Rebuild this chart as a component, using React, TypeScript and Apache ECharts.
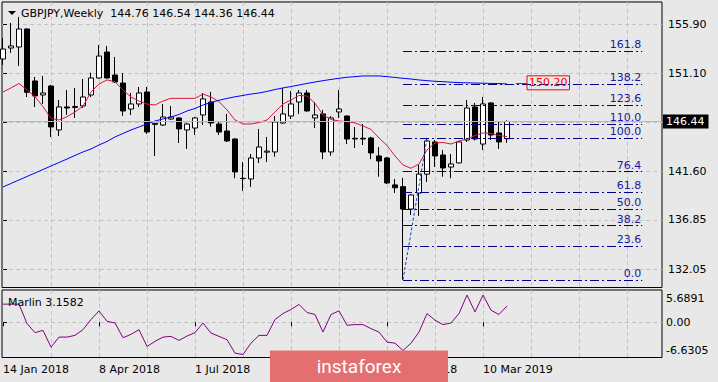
import React, { useEffect, useRef } from 'react';
import * as echarts from 'echarts';

const symbolName = 'GBPJPY,Weekly';

const opens = [152.52, 153.59, 153.69, 155.44, 150.38, 149.02, 149.89, 145.61, 147.85, 147.80, 147.95, 149.02, 150.67, 153.20, 150.96, 150.18, 147.65, 148.14, 149.31, 146.15, 146.09, 146.68, 146.78, 145.61, 145.80, 147.07, 148.33, 146.19, 145.51, 144.73, 140.90, 140.84, 142.88, 143.45, 143.47, 146.29, 146.97, 148.33, 149.21, 146.78, 147.17, 143.47, 147.36, 146.97, 144.73, 144.80, 144.83, 143.08, 142.88, 140.26, 140.09, 137.91, 139.47, 141.31, 144.44, 143.17, 142.00, 142.40, 144.63, 147.85, 144.24, 148.24, 145.32, 144.76];
const highs = [154.57, 156.03, 156.61, 155.50, 150.77, 150.87, 150.00, 148.53, 149.50, 149.70, 150.57, 151.19, 153.88, 153.79, 152.72, 151.16, 149.21, 149.79, 149.79, 146.30, 148.14, 147.94, 146.85, 146.29, 146.87, 149.21, 149.31, 146.48, 147.17, 144.80, 142.49, 143.27, 145.71, 144.93, 146.97, 149.70, 149.40, 149.50, 149.50, 148.33, 147.56, 146.95, 149.50, 147.00, 145.90, 146.19, 144.95, 143.95, 142.98, 140.84, 140.94, 139.35, 142.20, 144.80, 144.63, 143.66, 143.27, 144.50, 148.53, 148.24, 148.82, 148.30, 146.48, 146.54];
const lows = [151.94, 153.11, 151.84, 148.82, 147.85, 148.14, 144.93, 145.02, 147.07, 146.78, 147.75, 148.82, 150.60, 150.62, 150.18, 146.98, 147.07, 147.85, 145.22, 143.08, 146.00, 146.58, 144.34, 143.76, 145.12, 146.09, 145.93, 145.12, 144.44, 140.91, 139.68, 140.07, 142.40, 142.49, 143.00, 146.20, 146.68, 147.17, 147.40, 145.80, 142.76, 143.10, 146.78, 144.24, 143.86, 144.15, 142.76, 141.06, 140.35, 139.48, 131.02, 137.33, 137.24, 140.54, 142.00, 141.06, 140.91, 142.35, 144.44, 144.60, 143.66, 144.63, 143.76, 144.36];
const closes = [153.49, 153.79, 155.44, 149.28, 148.92, 149.21, 145.90, 147.85, 147.75, 147.90, 148.82, 150.67, 152.81, 150.67, 150.28, 147.46, 148.14, 149.21, 145.41, 146.25, 146.87, 146.87, 145.71, 146.19, 146.78, 148.63, 146.29, 145.41, 144.54, 141.52, 140.88, 142.88, 143.95, 143.55, 146.39, 147.17, 148.14, 149.21, 147.46, 147.07, 143.47, 146.78, 147.65, 144.73, 144.80, 144.73, 143.37, 142.59, 140.45, 139.98, 137.91, 139.28, 141.31, 144.54, 143.08, 141.91, 142.30, 144.44, 147.75, 144.73, 148.14, 145.12, 144.44, 146.44];

const maFast = [149.31, 149.70, 150.14, 149.50, 148.85, 147.88, 146.73, 146.58, 146.90, 147.36, 147.94, 149.31, 150.09, 150.48, 150.31, 149.50, 148.82, 148.43, 148.14, 148.04, 148.43, 148.69, 148.69, 148.69, 148.69, 149.11, 148.82, 148.38, 147.56, 146.58, 146.19, 146.19, 146.34, 146.58, 147.36, 148.14, 148.53, 148.97, 148.92, 148.21, 147.07, 146.63, 146.48, 146.42, 146.29, 146.00, 145.66, 144.83, 144.10, 143.08, 142.20, 141.88, 142.30, 143.66, 144.34, 144.39, 144.24, 144.54, 144.73, 145.07, 145.32, 145.27, 145.07, 144.96];
const maSlow = [140.06, 140.40, 140.74, 141.08, 141.42, 141.76, 142.10, 142.44, 142.78, 143.13, 143.47, 143.76, 144.15, 144.49, 144.93, 145.27, 145.61, 145.90, 146.19, 146.48, 146.68, 146.87, 147.12, 147.46, 147.70, 148.04, 148.29, 148.50, 148.68, 148.84, 148.97, 149.11, 149.21, 149.36, 149.55, 149.70, 149.84, 149.99, 150.14, 150.28, 150.41, 150.53, 150.64, 150.74, 150.80, 150.87, 150.87, 150.87, 150.80, 150.72, 150.64, 150.57, 150.48, 150.41, 150.35, 150.31, 150.26, 150.22, 150.20, 150.18, 150.16, 150.14, 150.13, 150.09];

const marlin = [3.50, 3.50, 3.50, -0.25, -2.00, -1.56, -4.80, -2.86, -2.86, -2.53, -1.42, 0.53, 2.20, 0.19, -0.14, -2.98, -2.33, -1.42, -4.67, -3.69, -2.86, -2.72, -3.50, -2.66, -2.00, -0.14, -2.08, -2.72, -3.36, -5.97, -6.22, -4.03, -2.53, -2.53, 0.53, 1.69, 2.47, 3.44, 1.89, 1.50, -1.89, 1.50, 2.20, -0.58, -0.45, -0.45, -1.23, -1.89, -3.83, -4.03, -5.45, -4.03, -1.89, 1.69, 0.39, -0.45, -0.14, 1.69, 5.25, 2.00, 5.25, 2.33, 1.50, 3.1582];

const dateTickIndex = [0, 12, 24, 36, 48, 60];
const dateTickLabels = ['14 Jan 2018', '8 Apr 2018', '1 Jul 2018', '23 Sep 2018', '16 Dec 2018', '10 Mar 2019'];
const gridWeeks = [6, 12, 18, 24, 30, 36, 42, 48, 54, 60, 66, 72, 78];
const priceTicks = [132.05, 136.85, 141.6, 146.35, 151.1, 155.9];
const priceLabels = [132.05, 136.85, 141.6, 151.1, 155.9];
const marlinTicks = [0];
const marlinLabels = [5.6891, 0, -6.6305];
const fibLevels = [0, 23.6, 38.2, 50, 61.8, 76.4, 100, 110, 123.6, 138.2, 161.8];
const fibLowIndex = 50;
const fibLow = 131.02;
const fibHighIndex = 53;
const fibHigh = 144.8;
const lastPrice = 146.44;
const maMarker = 150.2;

const FONT = 'DejaVu Sans';

export default function App() {
  const ref = useRef<HTMLDivElement>(null);
  useEffect(() => {
    if (!ref.current) return;
    const chart = echarts.init(ref.current, null, { renderer: 'svg' });
    const n = opens.length;
    const last = n - 1;
    const candles = opens.map((o, i) => [i, o, closes[i], lows[i], highs[i]]);
    const fibRange = fibHigh - fibLow;
    const fibNavy = '#00008b';
    const fibLines: any[] = fibLevels.map((p) => {
      const v = fibLow + (fibRange * p) / 100;
      return [
        {
          coord: [fibLowIndex, v],
          lineStyle: { color: fibNavy, type: [9, 3, 2, 3], width: 1 },
          label: {
            show: true,
            position: 'insideEndTop',
            formatter: p.toFixed(1),
            color: '#1a1a9a',
            fontSize: 11,
            fontFamily: FONT,
            distance: 1,
          },
        },
        { coord: [79.9, v] },
      ];
    });
    const gridLine = { show: true, lineStyle: { color: '#c2c2c2', type: [4, 3], width: 1 } };
    const xCommon = { type: 'value', min: -0.125, max: 82.375 };
    const header = `${symbolName}  ${[opens[last], highs[last], lows[last], closes[last]].map((v) => v.toFixed(2)).join(' ')}`;

    chart.setOption({
      animation: false,
      backgroundColor: '#e8e8e8',
      textStyle: { fontFamily: FONT, fontSize: 11 },
      grid: [
        { left: 2, top: 2, width: 660, height: 285.5, show: true, borderColor: '#000', borderWidth: 1, backgroundColor: 'transparent' },
        { left: 2, top: 290, width: 660, height: 67.5, show: true, borderColor: '#000', borderWidth: 1, backgroundColor: 'transparent' },
      ],
      xAxis: [
        {
          ...xCommon,
          gridIndex: 0,
          axisLine: { show: false },
          axisLabel: { show: false },
          axisTick: { show: false, customValues: gridWeeks },
          splitLine: gridLine,
        },
        {
          ...xCommon,
          gridIndex: 1,
          axisLine: { show: false },
          axisTick: { show: true, length: 4, customValues: dateTickIndex, lineStyle: { color: '#000' } },
          axisLabel: {
            customValues: dateTickIndex,
            formatter: (v: number) => dateTickLabels[dateTickIndex.indexOf(Math.round(v))] ?? '',
            align: 'left',
            margin: 6,
            color: '#000',
            fontSize: 11,
            fontFamily: FONT,
          },
          splitLine: { show: false },
        },
        {
          ...xCommon,
          gridIndex: 1,
          axisLine: { show: false },
          axisLabel: { show: false },
          axisTick: { show: false, customValues: gridWeeks },
          splitLine: gridLine,
        },
      ],
      yAxis: [
        {
          type: 'value',
          gridIndex: 0,
          position: 'right',
          min: 130.27,
          max: 158.07,
          axisLine: { show: false },
          axisTick: { show: true, length: 4, customValues: priceTicks, lineStyle: { color: '#000' } },
          axisLabel: {
            customValues: priceLabels,
            formatter: (v: number) => v.toFixed(2),
            color: '#000',
            margin: 6,
            fontSize: 11,
            fontFamily: FONT,
          },
          splitLine: gridLine,
        },
        {
          type: 'value',
          gridIndex: 1,
          position: 'right',
          min: -6.8,
          max: 6.23,
          axisLine: { show: false },
          axisTick: { show: true, length: 4, customValues: marlinTicks, lineStyle: { color: '#000' } },
          axisLabel: {
            customValues: marlinLabels,
            formatter: (v: number) =>
              v > 0.001 ? `{t|${v.toFixed(4)}}` : v < -0.001 ? `{b|${v.toFixed(4)}}` : `{m|${v.toFixed(2)}}`,
            margin: 4,
            rich: {
              t: { padding: [12, 0, 0, 0], color: '#000', fontSize: 11, fontFamily: FONT },
              b: { padding: [0, 0, 12, 0], color: '#000', fontSize: 11, fontFamily: FONT },
              m: { color: '#000', fontSize: 11, fontFamily: FONT },
            },
          },
          splitLine: gridLine,
        },
      ],
      series: [
        {
          type: 'candlestick',
          xAxisIndex: 0,
          yAxisIndex: 0,
          data: candles,
          encode: { x: 0, y: [1, 2, 3, 4] },
          barWidth: 5,
          itemStyle: { color: '#ffffff', color0: '#000000', borderColor: '#000000', borderColor0: '#000000', borderWidth: 1 },
          z: 3,
          markLine: {
            silent: true,
            symbol: ['none', 'none'],
            animation: false,
            data: [
              {
                yAxis: lastPrice,
                lineStyle: { color: '#b9b9b9', type: 'solid', width: 1 },
                label: {
                  show: true,
                  position: 'end',
                  formatter: lastPrice.toFixed(2),
                  color: '#fff',
                  backgroundColor: '#000',
                  padding: [2, 4, 1, 3],
                  distance: 1,
                  fontSize: 11,
                  fontFamily: FONT,
                },
              },
              ...fibLines,
              [
                {
                  coord: [fibLowIndex, fibLow],
                  lineStyle: { color: '#1f3fd0', type: [3, 2], width: 1 },
                  label: { show: false },
                },
                { coord: [fibHighIndex, fibHigh] },
              ],
            ],
          },
        },
        {
          type: 'line',
          xAxisIndex: 0,
          yAxisIndex: 0,
          data: maFast.map((v, i) => [i, v]),
          symbol: 'none',
          lineStyle: { color: '#dc143c', width: 1 },
          z: 4,
        },
        {
          type: 'line',
          xAxisIndex: 0,
          yAxisIndex: 0,
          data: maSlow.map((v, i) => [i, v]),
          symbol: 'none',
          lineStyle: { color: '#0000ff', width: 1 },
          z: 4,
          markLine: {
            silent: true,
            symbol: ['none', 'none'],
            animation: false,
            data: [
              [
                {
                  coord: [64.1, maMarker],
                  lineStyle: { color: '#ff0000', type: 'solid', width: 1 },
                  label: {
                    show: true,
                    position: 'end',
                    formatter: maMarker.toFixed(2),
                    color: '#ff0000',
                    borderColor: '#ff0000',
                    borderWidth: 1,
                    padding: [2, 2, 1, 2],
                    distance: 0,
                    fontSize: 11,
                    fontFamily: FONT,
                  },
                },
                { coord: [65.5, maMarker] },
              ],
            ],
          },
        },
        {
          type: 'line',
          xAxisIndex: 1,
          yAxisIndex: 1,
          data: marlin.map((v, i) => [i, v]),
          symbol: 'none',
          lineStyle: { color: '#800080', width: 1 },
          z: 4,
        },
      ],
      graphic: [
        { type: 'polygon', shape: { points: [[8, 11], [16, 11], [12, 15]] }, style: { fill: '#000' }, z: 10 },
        { type: 'text', x: 21, y: 13, style: { text: header, fill: '#000', font: `11px "${FONT}"`, textVerticalAlign: 'middle' }, z: 10 },
        {
          type: 'text',
          x: 8,
          y: 302,
          style: { text: `Marlin ${marlin[last].toFixed(4)}`, fill: '#000', font: `11px "${FONT}"`, textVerticalAlign: 'middle' },
          z: 10,
        },
        { type: 'rect', shape: { x: 270, y: 350.5, width: 178, height: 32 }, style: { fill: '#e46f70' }, z: 20 },
        {
          type: 'text',
          x: 359,
          y: 366,
          style: { text: 'instaforex', fill: '#ffffff', font: '19px Roboto', textAlign: 'center', textVerticalAlign: 'middle' },
          z: 21,
        },
      ],
    });
    return () => chart.dispose();
  }, []);
  return <div ref={ref} style={{ position: 'fixed', left: 0, top: 0, width: 718, height: 382 }} />;
}
